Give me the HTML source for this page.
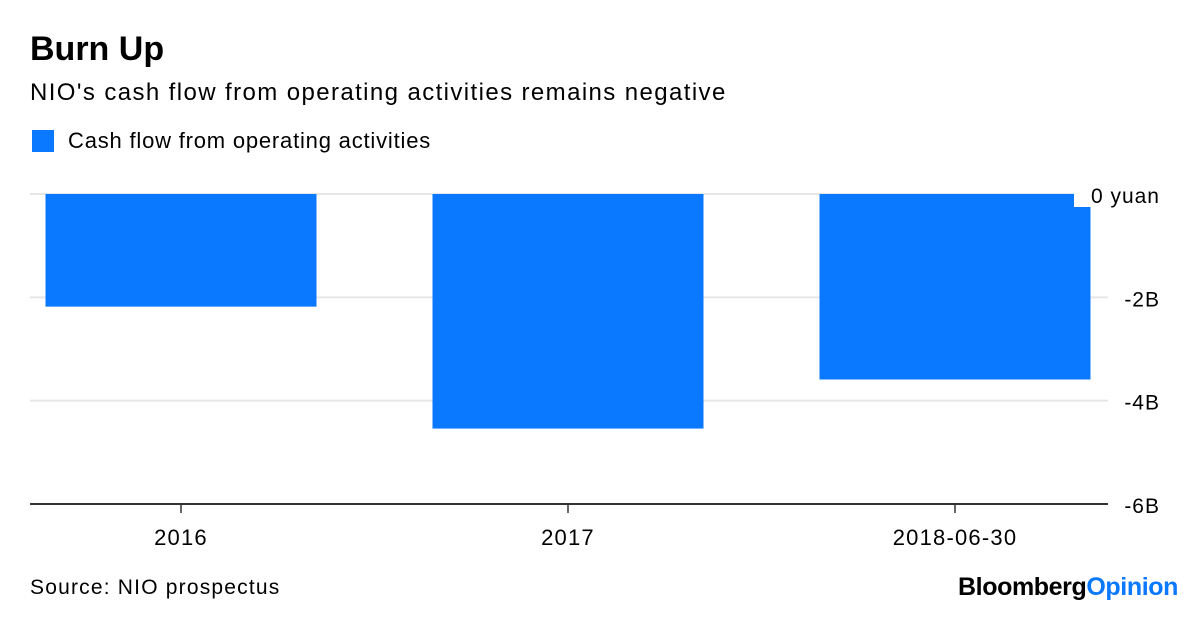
<!DOCTYPE html>
<html><head><meta charset="utf-8"><style>
body{margin:0;background:#fff;width:1200px;height:614px;overflow:hidden;font-family:"Liberation Sans",Arial,sans-serif;}
</style></head><body>
<svg width="1200" height="614" xmlns="http://www.w3.org/2000/svg">
<text x="30" y="60" font-size="34" font-weight="bold" fill="#000" style="letter-spacing:0px">Burn Up</text>
<text x="30" y="100" font-size="24" fill="#000" style="letter-spacing:1.4px">NIO's cash flow from operating activities remains negative</text>
<rect x="32" y="130" width="22" height="22" fill="#0a78ff"/>
<text x="68" y="148" font-size="22" fill="#000" style="letter-spacing:0.8px">Cash flow from operating activities</text>
<g id="grid"></g>
<g id="bars"></g>
<g id="axis"></g>
<text x="30" y="594" font-size="21" fill="#000" style="letter-spacing:1.2px">Source: NIO prospectus</text>
<text x="1178" y="595" font-size="25" font-weight="bold" text-anchor="end" style="letter-spacing:-0.4px"><tspan fill="#000">Bloomberg</tspan><tspan fill="#0a78ff">Opinion</tspan></text>
</svg>
<script>
const categories = ["2016","2017","2018-06-30"];
const values = [-2.18,-4.54,-3.59];
const yTicks = [0,-2,-4,-6];
const yTickLabels = ["0 yuan","-2B","-4B","-6B"];
const NS="http://www.w3.org/2000/svg";
function y(v){return 194 + (-v)*51.67;}
function xc(i){return 181 + 387*i;}
const bw=271;
function mk(tag,attrs,parent){const e=document.createElementNS(NS,tag);for(const k in attrs)e.setAttribute(k,attrs[k]);document.getElementById(parent).appendChild(e);return e;}
yTicks.forEach((t,i)=>{
  if(i<yTicks.length-1){
    const l=mk('line',{x1:30,x2:1108,y1:y(t),y2:y(t),stroke:'#e6e6e6','stroke-width':2},'grid');
    
    
  }
});
values.forEach((v,i)=>{
  const r=mk('rect',{x:xc(i)-bw/2,y:y(0),width:bw,height:y(v)-y(0),fill:'#0a78ff'},'bars');
  
  
});
const bg=mk('rect',{x:1074,y:186,width:90,height:21,fill:'#fff'},'axis');


yTicks.forEach((t,i)=>{
  const tx=mk('text',{x:1160,y:y(t)+9,'font-size':21,'text-anchor':'end',fill:'#000',style:'letter-spacing:1px'},'axis');
  tx.textContent=yTickLabels[i];
  
  
});
const ax=mk('line',{x1:30,x2:1108,y1:y(-6),y2:y(-6),stroke:'#333','stroke-width':2},'axis');


categories.forEach((c,i)=>{
  const tk=mk('line',{x1:xc(i),x2:xc(i),y1:y(-6),y2:y(-6)+9,stroke:'#333','stroke-width':1.5},'axis');
  
  
  const tl=mk('text',{x:xc(i),y:545,'font-size':22,'text-anchor':'middle',fill:'#000',style:'letter-spacing:1.2px'},'axis');
  tl.textContent=c;
  
  
});
</script>
</body></html>
